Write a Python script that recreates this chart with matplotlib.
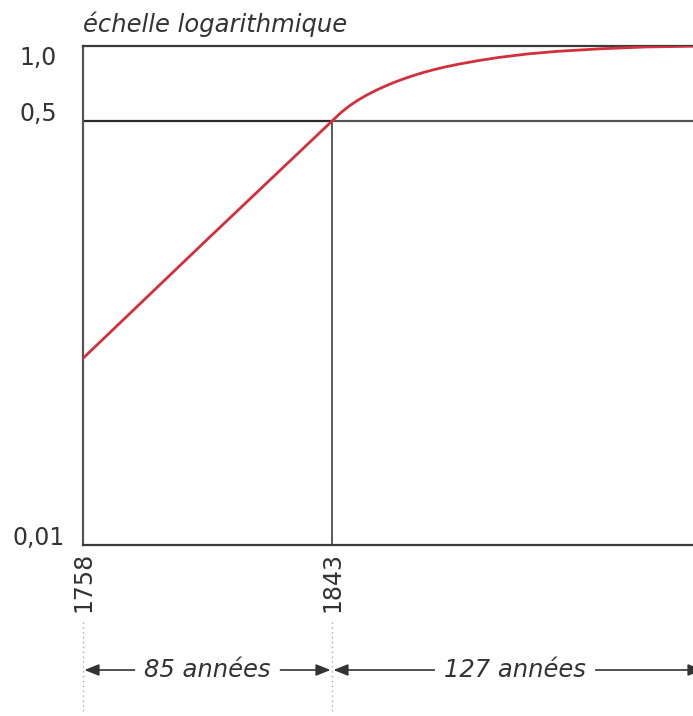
import matplotlib
matplotlib.use("Agg")
import matplotlib.pyplot as plt

# Data
years = [1758, 1800, 1843, 1846, 1849, 1852, 1855, 1858, 1861, 1864, 1867,
         1870, 1874, 1878, 1882, 1887, 1893, 1900, 1910, 1920, 1935, 1950, 1970]
share = [0.056, 0.166, 0.50, 0.540, 0.576, 0.608, 0.637, 0.664, 0.689, 0.713, 0.735,
         0.756, 0.782, 0.805, 0.826, 0.849, 0.874, 0.900, 0.930, 0.952, 0.975, 0.991, 1.0]
xticks = [1758, 1843, 1970]
xticklabels = ["1758", "1843", "1970"]
yticks = [0.01, 0.5, 1.0]
yticklabels = ["0,01", "0,5", "1,0"]
title = "échelle logarithmique"
span_labels = ["85 années", "127 années"]

W, H = 693, 716
fig = plt.figure(figsize=(W / 100, H / 100), dpi=100)
ax = fig.add_axes([83 / W, 171 / H, 621 / W, 499 / H])
ax.set_yscale("log")
ax.set_xlim(xticks[0], xticks[-1])
ax.set_ylim(yticks[0], yticks[-1])

txt = "#333333"
ax.spines["left"].set_color("#555555")
ax.spines["top"].set_color("#3a3a3a")
ax.spines["bottom"].set_color("#3a3a3a")
ax.spines["right"].set_color("#555555")
for s in ["left", "bottom", "top", "right"]:
    ax.spines[s].set_linewidth(1.6)

ax.plot([xticks[0], xticks[1]], [0.5, 0.5], color="#2a2a2a", lw=1.6, zorder=1)
ax.plot([xticks[1], xticks[2]], [0.5, 0.5], color="#555555", lw=1.6, zorder=1)
ax.plot([xticks[1], xticks[1]], [yticks[0], 0.5], color="#5a5a5a", lw=1.4, zorder=1)

ax.plot(years, share, color="#d2303c", lw=2.0, zorder=3, solid_capstyle="round",
        solid_joinstyle="round")

ax.set_yticks(yticks)
ax.set_yticklabels(yticklabels)
ax.yaxis.set_minor_locator(matplotlib.ticker.NullLocator())
ax.set_xticks(xticks)
ax.set_xticklabels(xticklabels, rotation=90)
ax.tick_params(axis="y", length=0, pad=32, labelsize=17, labelcolor=txt)
ax.tick_params(axis="x", length=0, pad=5, labelsize=17, labelcolor=txt)
for lab, v in zip(ax.get_yticklabels(), yticks):
    lab.set_ha("center")
    lab.set_va("top" if v == 1.0 else "baseline")

ax.text(0.0, 1.028, title, transform=ax.transAxes, fontsize=17.5, style="italic",
        color=txt, ha="left", va="baseline")

tr = ax.get_xaxis_transform()
# dotted guide lines below the axis
for xv in xticks:
    ax.plot([xv, xv], [-0.154, -0.337], transform=tr, clip_on=False,
            color="#aaaaaa", lw=1.0, ls=(0, (1, 2.5)))

yrow = -0.2505
spans = [(xticks[0], xticks[1]), (xticks[1], xticks[2])]
mids = [1800.5, 1905.5]
for (a, b), lab, mid in zip(spans, span_labels, mids):
    for end, col in ((a, txt), (b, "none")):
        ax.annotate(lab, xy=(end, yrow), xytext=(mid, yrow), xycoords=tr,
                    textcoords=tr, ha="center", va="center", fontsize=17.5,
                    style="italic", color=col, annotation_clip=False,
                    arrowprops=dict(arrowstyle="-|>,head_length=0.5,head_width=0.2",
                                    color="#333333", lw=1.2, shrinkA=5, shrinkB=1))

fig.savefig("out.png", dpi=100)
